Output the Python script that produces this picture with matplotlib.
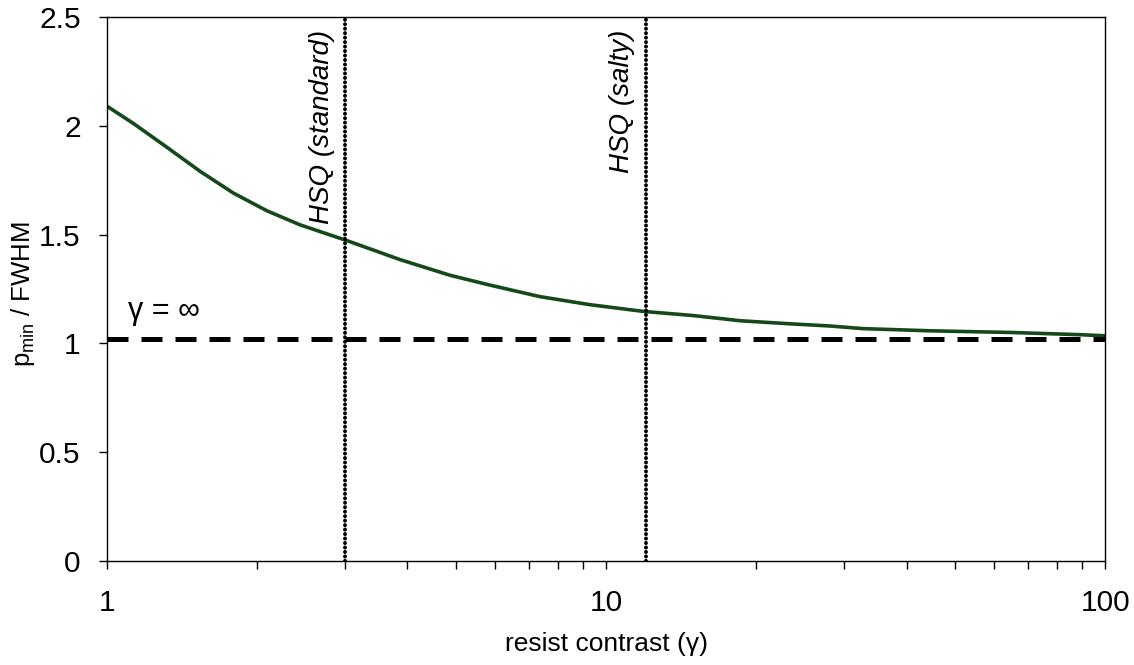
import numpy as np
import matplotlib
matplotlib.use("Agg")
import matplotlib.pyplot as plt
from matplotlib.ticker import FixedLocator, LogLocator, NullFormatter

plt.rcParams["font.family"] = ["Liberation Sans", "DejaVu Sans"]
plt.rcParams["mathtext.fontset"] = "custom"
plt.rcParams["mathtext.rm"] = "Liberation Sans"
plt.rcParams["mathtext.it"] = "Liberation Sans:italic"

# minimum pitch vs. resist contrast
gamma = [1.0, 1.129, 1.317, 1.536, 1.791, 2.089, 2.436, 3.02, 3.866, 4.87,
         5.85, 7.37, 9.28, 11.88, 14.95, 18.6, 23.4, 28.1, 32.7, 44.5,
         65.4, 89.2, 100.0]
pmin_fwhm = [2.09, 2.011, 1.902, 1.791, 1.691, 1.61, 1.545, 1.473, 1.385, 1.313,
             1.268, 1.215, 1.178, 1.147, 1.128, 1.104, 1.09, 1.08, 1.068, 1.058,
             1.05, 1.04, 1.035]

gamma_inf = 1.02          # infinite-contrast limit
hsq_standard = 3.0
hsq_salty = 12.0

tick_font = ["Liberation Sans Narrow", "Liberation Sans", "DejaVu Sans"]

fig = plt.figure(figsize=(11.34, 6.65), dpi=100)
ax = fig.add_axes([0.0944, 0.1564, 0.8801, 0.818])

ax.plot(gamma, pmin_fwhm, color="#15491a", lw=2.6, solid_capstyle="butt",
        solid_joinstyle="round")
ax.axhline(gamma_inf, color="black", lw=3.6, linestyle=(0, (4.2, 2.6)))
for g in (hsq_standard, hsq_salty):
    ax.axvline(g, color="black", lw=2.8, linestyle=(0, (0.05, 1.1)),
               dash_capstyle="round")

ax.text(1.10, 1.15, "γ = ∞", fontsize=22, va="center", ha="left")
ax.annotate("HSQ (standard)", xy=(hsq_standard, 2.44), xytext=(-17, 0),
            textcoords="offset points", rotation=90, ha="center", va="top",
            fontsize=20, style="italic")
ax.annotate("HSQ (salty)", xy=(hsq_salty, 2.44), xytext=(-17, 0),
            textcoords="offset points", rotation=90, ha="center", va="top",
            fontsize=20, style="italic")

ax.set_xscale("log")
ax.set_xlim(1, 100)
ax.set_ylim(0, 2.5)
ax.xaxis.set_major_locator(FixedLocator([1, 10, 100]))
ax.set_xticklabels(["1", "10", "100"])
ax.xaxis.set_minor_locator(LogLocator(base=10, subs=np.arange(2, 10)))
ax.xaxis.set_minor_formatter(NullFormatter())
ax.set_yticks([0, 0.5, 1, 1.5, 2, 2.5])
ax.set_yticklabels(["0", "0.5", "1", "1.5", "2", "2.5"])

ax.tick_params(axis="both", which="both", direction="out", width=1.0,
               color="black")
ax.tick_params(axis="x", which="both", length=6, pad=14)
ax.tick_params(axis="y", which="major", length=6, pad=13)
for lab in ax.get_xticklabels() + ax.get_yticklabels():
    lab.set_fontfamily(tick_font)
    lab.set_fontsize(21.5)
for s in ax.spines.values():
    s.set_linewidth(1.0)

ax.set_xlabel("resist contrast (γ)", fontsize=19, va="top")
ax.xaxis.set_label_coords(0.5, -0.13)
ax.set_ylabel(r"p$_{\mathrm{min}}$ / FWHM", fontsize=18.5)
ax.yaxis.set_label_coords(-0.07, 0.49)

fig.savefig("out.png", dpi=100, facecolor="white")
